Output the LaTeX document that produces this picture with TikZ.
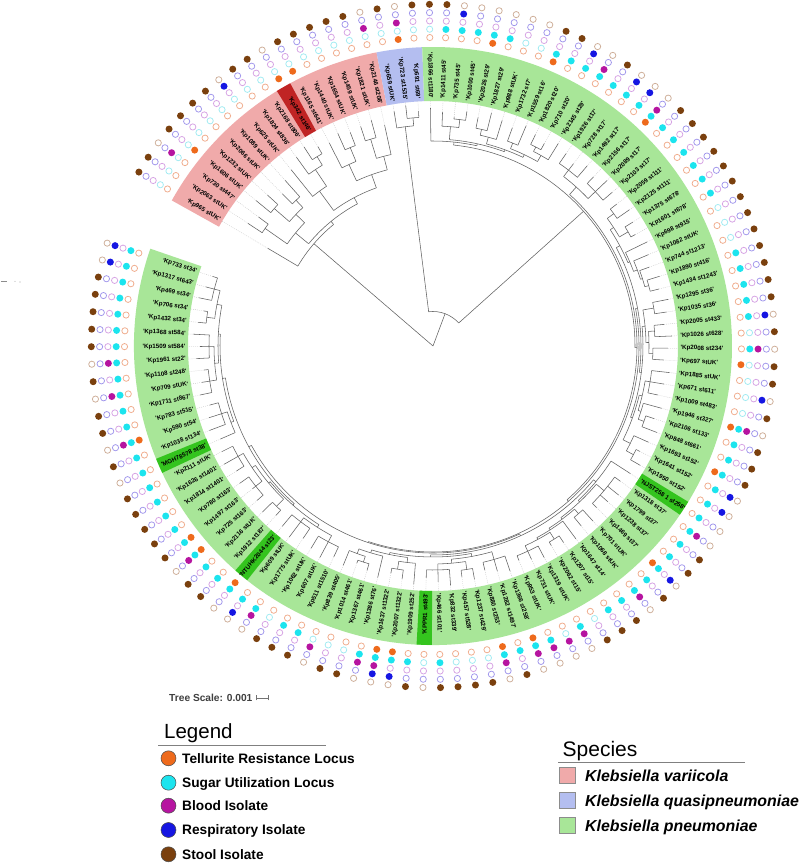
\documentclass[tikz,border=0pt]{standalone}
\usepackage{fontspec}
\setmainfont{Liberation Sans}
\definecolor{cT}{RGB}{238,106,28}
\definecolor{cS}{RGB}{28,228,238}
\definecolor{cB}{RGB}{182,20,160}
\definecolor{cR}{RGB}{22,22,226}
\definecolor{cSt}{RGB}{122,64,14}
\definecolor{lT}{RGB}{240,172,140}
\definecolor{lS}{RGB}{160,235,242}
\definecolor{lB}{RGB}{214,162,228}
\definecolor{lR}{RGB}{160,150,236}
\definecolor{lSt}{RGB}{206,174,152}
\definecolor{bPink}{RGB}{240,170,170}
\definecolor{bRed}{RGB}{192,36,36}
\definecolor{bBlue}{RGB}{180,190,240}
\definecolor{bGreen}{RGB}{168,230,152}
\definecolor{bDGreen}{RGB}{52,196,30}
\newcommand\lblfont{\fontsize{6.2}{7}\selectfont\bfseries}
\newcommand\legfont{\fontsize{13.7}{16}\selectfont\bfseries}
\newcommand\spfont{\fontsize{15.9}{18}\selectfont\bfseries\itshape}
\newcommand\leaf[3]{%
  \pgfmathsetmacro\la{149.4-2.94*#2}%
  \expandafter\xdef\csname A@#1\endcsname{\la}%
  \expandafter\xdef\csname R@#1\endcsname{#3}%
  \draw[lead] (\la:#3) -- (\la:246);%
}
\newcommand\inode[3]{%
  \gdef\nfirst{}%
  \foreach \cc in {#3}{%
    \ifx\nfirst\empty\xdef\nfirst{\cc}\fi
    \xdef\nlast{\cc}}%
  \edef\aF{\csname A@\nfirst\endcsname}%
  \edef\aL{\csname A@\nlast\endcsname}%
  \pgfmathsetmacro\nang{((\aF)+(\aL))/2}%
  \expandafter\xdef\csname A@#1\endcsname{\nang}%
  \expandafter\xdef\csname R@#1\endcsname{#2}%
  \draw[br] (\aF:#2) arc[start angle=\aF, end angle=\aL, radius=#2];%
  \foreach \cc in {#3}{%
    \edef\ca{\csname A@\cc\endcsname}%
    \edef\cra{\csname R@\cc\endcsname}%
    \draw[br] (\ca:#2) -- (\ca:\cra);}%
}
\newcommand\sect[3]{\fill[#1] (#2:245) arc[start angle=#2,end angle=#3,radius=245] -- (#3:299) arc[start angle=#3,end angle=#2,radius=299] -- cycle;}
\newcommand\dt[5]{\ifnum#3=1 \fill[#4] (#1:#2) circle[radius=3.5];\else\draw[#5,line width=0.75,fill=white] (#1:#2) circle[radius=3.1];\fi}
\begin{document}
\begin{tikzpicture}[x=1pt,y=1pt,
  br/.style={draw=black!62,line width=0.55},
  lead/.style={draw=black!25,line width=0.35,dash pattern=on 0.8pt off 1.2pt},
  lbl/.style={font=\lblfont,inner sep=0pt}]
\useasboundingbox (0,0) rectangle (800,863);
\fill[white] (0,0) rectangle (800,863);
% stray marks at the left edge
\fill[black!45] (1,582) rectangle (7,581.2);
\fill[black!35] (15,581.6) circle[radius=0.6];
\fill[black!35] (20,581) circle[radius=0.6];
\begin{scope}[shift={(433,517)}]
% colour band
\sect{bPink}{150.87}{100.89}
\sect{bRed}{121.47}{118.53}
\sect{bBlue}{100.89}{92.07}
\sect{bGreen}{92.07}{-198.99}
\foreach \q in {-32.88,-91.68,-129.9,-156.36}{\sect{bDGreen}{\q+1.47}{\q-1.47}}
% leaves
\leaf{L0}{0}{192}\leaf{L1}{1}{222}\leaf{L2}{2}{217}\leaf{L3}{3}{229}
\leaf{L4}{4}{224}\leaf{L5}{5}{214}\leaf{L6}{6}{222}\leaf{L7}{7}{226}
\leaf{L8}{8}{233}\leaf{L9}{9}{237}\leaf{L10}{10}{230}\leaf{L11}{11}{228}
\leaf{L12}{12}{233}\leaf{L13}{13}{229}\leaf{L14}{14}{231}\leaf{L15}{15}{234}
\leaf{L16}{16}{226}
\leaf{L17}{17}{238}\leaf{L18}{18}{242}\leaf{L19}{19}{235}
\foreach \i in {20,...,118}{\pgfmathtruncatemacro\tp{230+mod(\i*7,11)}\leaf{L\i}{\i}{\tp}}
% variicola
\inode{p12}{205}{L1,L2}
\inode{p34}{210}{L3,L4}
\inode{p56}{200}{L5,L6}
\inode{pA2}{190}{p34,p56}
\inode{pA}{178}{p12,pA2}
\inode{p910}{222}{L9,L10}
\inode{p8}{212}{L8,p910}
\inode{p7}{192}{L7,p8}
\inode{p1213}{215}{L12,L13}
\inode{p11}{200}{L11,p1213}
\inode{p1415}{216}{L14,L15}
\inode{p14}{196}{p1415,L16}
\inode{p1116}{182}{p11,p14}
\inode{pB}{168}{p7,p1116}
\inode{P1}{161}{pA,pB}
\inode{V}{157}{L0,P1}
% quasipneumoniae
\inode{b2}{229}{L18,L19}
\inode{bq}{221}{L17,b2}
% pneumoniae
\inode{g45a}{228}{L22,L23}
\inode{g45}{220}{L21,g45a}
\inode{g29}{222}{L24,L25}
\inode{t1}{216}{g29,L26}
\inode{t2}{218}{L27,L28}
\inode{g20}{224}{L29,L30}
\inode{t3}{219}{g20,L31}
\inode{t4}{212}{t2,t3}
\inode{t5}{209}{t1,t4}
\inode{t6}{207}{g45,t5}
\inode{T}{205}{L20,t6}
\inode{sA}{222}{L32,L33,L34}
\inode{sB}{224}{L35,L36,L37}
\inode{S17}{214}{sA,sB}
\inode{g111}{224}{L38,L39}
\inode{g678}{226}{L40,L41}
\inode{M1}{216}{g111,g678}
\inode{Mf}{224}{L45,L46}
\inode{Me}{220}{L44,Mf}
\inode{Md}{218}{L43,Me}
\inode{Mc}{214}{L42,Md}
\inode{Ma}{212}{M1,Mc}
\inode{g36}{224}{L47,L48}
\inode{Mj}{222}{L49,L50}
\inode{Mk}{220}{L51,L52}
\inode{Mi}{216}{Mj,Mk}
\inode{Mg}{213}{g36,Mi}
\inode{Mm}{220}{L53,L54,L55}
\inode{Mo}{224}{L57,L58}
\inode{Mn}{218}{L56,Mo}
\inode{Ml}{215}{Mm,Mn}
\inode{gx}{228}{L60,L61}
\inode{g152}{220}{L59,gx}
\inode{Mh}{212}{Ml,g152}
\inode{Mb}{210}{Mg,Mh}
\inode{M}{208}{Ma,Mb}
\inode{g37}{224}{L63,L64,L65,L66}
\inode{Pe}{222}{L67,L68}
\inode{g15}{228}{L70,L71}
\inode{g3u}{226}{L72,L73,L74}
\inode{Pg}{220}{g15,g3u}
\inode{Pf}{218}{L69,Pg}
\inode{Pd}{216}{Pe,Pf}
\inode{Pc}{214}{g37,Pd}
\inode{Pa}{212}{L62,Pc}
\inode{Pj}{222}{L75,L76,L77}
\inode{Pl}{226}{L78,L79}
\inode{Pm}{224}{L80,L81,L82}
\inode{Pk}{218}{Pl,Pm}
\inode{Ph}{214}{Pj,Pk}
\inode{g1322}{226}{L84,L85}
\inode{Pn}{218}{L83,g1322}
\inode{g461}{227}{L87,L88}
\inode{Pp}{221}{g461,L89}
\inode{Po}{216}{L86,Pp}
\inode{Pi}{213}{Pn,Po}
\inode{Pb}{211}{Ph,Pi}
\inode{P}{209}{Pa,Pb}
\inode{Qe}{222}{L90,L91,L92}
\inode{Qf}{220}{L93,L94,L95}
\inode{Qc}{215}{Qe,Qf}
\inode{Qg}{224}{L96,L97}
\inode{g163}{226}{L98,L99,L100}
\inode{g1401}{224}{L101,L102,L103}
\inode{Qh}{218}{g163,g1401}
\inode{Qd}{214}{Qg,Qh}
\inode{Qa}{212}{Qc,Qd}
\inode{Qk}{222}{L105,L106,L107}
\inode{Qi}{216}{L104,Qk}
\inode{Qm}{226}{L108,L109,L110}
\inode{Qn}{224}{L111,L112,L113}
\inode{Ql}{219}{Qm,Qn}
\inode{Qo}{228}{L114,L115}
\inode{Qp}{226}{L116,L117,L118}
\inode{g34}{220}{Qo,Qp}
\inode{Qj}{215}{Ql,g34}
\inode{Qb}{213}{Qi,Qj}
\inode{Q}{210}{Qa,Qb}
\inode{R2}{207}{P,Q}
\inode{R1}{206}{M,R2}
\inode{R0}{204}{S17,R1}
\inode{G}{202}{T,R0}
\inode{N1}{34.5}{bq,G}
\edef\aV{\csname A@V\endcsname}\edef\aN{\csname A@N1\endcsname}
\coordinate (root) at (0,0);
\draw[br] (root) -- (\aV:157);
\draw[br] (root) -- (\aN:34.5);
% labels
\foreach \i/\s in {0/Kp965 stUK,1/Kp2063 stUK,2/Kp730 st447,3/Kp1606 stUK,4/Kp1232 stUK,5/Kp2066 stUK,6/Kp1089 stUK,7/Kp625 stUK,8/Kp1824 st836,9/Kp2168 st906,10/Kp342 st146,11/Kp1165 st641,12/Kp1440 stUK,13/Kp1654 stUK,14/Kp1459 stUK,15/Kp1821 stUK,16/Kp2146 st208,17/Kp659 stUK,18/Kp723 st1535,19/Kp691 st69,20/Kp1866 st1180,21/Kp1411 st45,22/Kp735 st45,23/Kp1000 st45,24/Kp2026 st29,25/Kp1827 st29,26/Kp988 stUK,27/Kp1732 st7,28/Kp1559 st16,29/Kp1820 st20,30/Kp710 st20,31/Kp2145 st29,32/Kp1926 st17,33/Kp728 st17,34/Kp1492 st17,35/Kp2156 st17,36/Kp2089 st17,37/Kp2103 st17,38/Kp2059 st111,39/Kp2125 st111,40/Kp1375 st678,41/Kp1601 st678,42/Kp698 st915,43/Kp1082 stUK,44/Kp744 st1213,45/Kp1890 st416,46/Kp1434 st1243,47/Kp1295 st36,48/Kp1035 st36,49/Kp2005 st433,50/Kp1026 st628,51/Kp2008 st234,52/Kp697 stUK,53/Kp1885 stUK,54/Kp671 st611,55/Kp1009 st483,56/Kp1946 st327,57/Kp2106 st133,58/Kp848 st661,59/Kp1693 st152,60/Kp1641 st152,61/Kp1950 st152,62/NJST258 1 st258,63/Kp1318 st37,64/Kp1799 st37,65/Kp1238 st37,66/Kp1469 st37,67/Kp701 stUK,68/Kp1068 stUK,69/Kp1647 st14,70/Kp1207 st15,71/Kp2062 st15,72/Kp1319 stUK,73/Kp731 stUK,74/Kp953 stUK,75/Kp1366 st258,76/Kp1282 st1497,77/Kp880 st253,78/Kp1237 st429,79/Kp457 st528,80/Kp832 st339,81/Kp466 st101,82/KPPR1 st493,83/Kp1909 st252,84/Kp2007 st1322,85/Kp1637 st1322,86/Kp1386 st76,87/Kp1367 st461,88/Kp1014 st461,89/Kp839 st405,90/Kp511 st1510,91/Kp607 stUK,92/Kp1062 stUK,93/Kp1775 stUK,94/Kp609 stUK,95/NTUHK2044 st23,96/Kp1912 st187,97/Kp2116 stUK,98/Kp725 st163,99/Kp1497 st163,100/Kp780 st163,101/Kp1814 st1401,102/Kp1626 st1401,103/Kp2111 stUK,104/MGH78578 st38,105/Kp1038 st134,106/Kp590 st54,107/Kp783 st515,108/Kp1711 st867,109/Kp709 stUK,110/Kp1108 st248,111/Kp1961 st22,112/Kp1509 st584,113/Kp1368 st584,114/Kp1432 st34,115/Kp706 st34,116/Kp469 st34,117/Kp1317 st643,118/Kp733 st34}{%
  \pgfmathsetmacro\ang{149.4-2.94*\i}%
  \pgfmathtruncatemacro\rgt{(cos(\ang)>0)?1:0}%
  \ifnum\rgt=1
    \node[lbl,anchor=west,rotate=\ang] (lab\i) at (\ang:247.5) {\textquotesingle\s\textquotesingle};
  \else
    \pgfmathsetmacro\angf{\ang+180}%
    \node[lbl,anchor=east,rotate=\angf] (lab\i) at (\ang:247.5) {\textquotesingle\s\textquotesingle};
  \fi
}
% dots
\foreach \i/\pa/\pb/\pc/\pd/\pe in {0/0/0/0/0/1,1/0/0/0/0/1,2/0/0/1/0/0,3/1/0/0/0/1,4/0/0/0/0/1,5/0/0/0/0/1,6/0/0/0/0/1,7/0/0/0/1/0,8/0/0/0/0/1,9/0/0/0/0/1,10/1/0/0/0/0,11/1/0/0/0/1,12/0/0/0/0/1,13/0/0/0/0/1,14/0/0/0/0/1,15/0/0/0/0/1,16/0/0/1/0/0,17/0/0/0/0/1,18/1/0/1/0/0,19/0/0/0/0/1,20/0/0/0/0/1,21/0/1/0/0/1,22/0/1/0/1/0,23/0/1/0/0/0,24/1/1/0/0/0,25/0/1/0/0/0,26/0/0/0/0/0,27/0/0/0/0/0,28/1/1/0/0/1,29/0/1/0/0/1,30/0/1/0/1/0,31/0/1/1/0/0,32/0/1/0/0/1,33/0/1/0/1/0,34/0/1/0/1/0,35/1/1/1/0/0,36/0/1/0/0/1,37/0/1/0/0/1,38/0/1/0/0/1,39/0/1/0/0/1,40/0/1/0/0/1,41/0/1/0/0/1,42/0/0/0/0/1,43/0/0/0/0/1,44/0/0/0/0/1,45/0/1/0/0/1,46/0/1/0/0/1,47/0/1/0/0/1,48/0/1/0/0/1,49/0/1/0/1/0,50/0/0/0/0/1,51/0/1/1/0/0,52/1/0/0/0/1,53/0/0/0/0/1,54/0/0/0/1/0,55/0/0/0/0/1,56/1/1/1/0/0,57/0/1/0/0/1,58/0/1/0/0/1,59/1/1/0/0/1,60/0/1/0/1/0,61/0/1/0/1/0,62/0/1/0/0/0,63/0/1/1/0/0,64/0/1/0/0/1,65/0/1/0/0/1,66/1/1/0/1/0,67/0/1/0/0/1,68/0/1/1/0/0,69/0/1/0/0/1,70/0/1/0/0/1,71/0/0/0/0/1,72/0/1/1/0/0,73/0/0/1/0/0,74/0/1/1/0/0,75/1/1/1/0/0,76/0/1/0/0/1,77/1/1/1/0/0,78/0/0/0/0/1,79/0/0/0/0/1,80/0/0/0/0/1,81/0/1/0/0/1,82/0/0/0/0/0,83/0/1/0/0/1,84/1/1/0/1/0,85/1/1/1/1/0,86/0/1/1/0/0,87/0/0/0/0/1,88/0/0/0/0/1,89/0/0/1/0/0,90/0/1/0/0/1,91/0/1/0/0/1,92/0/0/0/0/1,93/0/1/1/0/0,94/0/1/0/1/0,95/1/1/0/0/0,96/0/1/0/0/1,97/0/1/0/0/1,98/1/1/1/0/0,99/1/1/0/0/1,100/0/1/0/0/1,101/0/1/0/0/1,102/0/1/0/0/1,103/0/1/0/0/1,104/0/1/0/0/0,105/0/1/0/0/1,106/1/1/1/0/0,107/0/1/0/0/1,108/0/1/0/0/1,109/0/1/1/0/0,110/0/1/0/0/1,111/0/1/1/0/0,112/0/1/0/0/1,113/0/1/0/0/1,114/0/1/0/0/1,115/0/1/0/0/1,116/0/1/0/0/1,117/0/1/0/1/0,118/0/1/0/1/0}{%
  \pgfmathsetmacro\ang{149.4-2.94*\i}%
  \dt{\ang}{308.5}{\pa}{cT}{lT}%
  \dt{\ang}{316.8}{\pb}{cS}{lS}%
  \dt{\ang}{325.1}{\pc}{cB}{lB}%
  \dt{\ang}{333.4}{\pd}{cR}{lR}%
  \dt{\ang}{341.7}{\pe}{cSt}{lSt}%
}
\end{scope}
% tree scale
\node[anchor=west,font=\fontsize{10.2}{12}\selectfont\bfseries,text=black!75,inner sep=0pt] (ts) at (169,165) {Tree Scale: 0.001};
\draw[black!55,line width=0.6] (256,165) -- (268,165) (256,162.5) -- (256,167.5) (268,162.5) -- (268,167.5);
% legend
\node[anchor=base west,font=\fontsize{20.5}{24}\selectfont,inner sep=0pt] (lg) at (164,124) {Legend};
\draw[black!50,line width=0.8] (158,118) -- (326,118);
\foreach \y/\col/\txt [count=\k] in {104.7/cT/Tellurite Resistance Locus,80.3/cS/Sugar Utilization Locus,57.3/cB/Blood Isolate,33/cR/Respiratory Isolate,8.7/cSt/Stool Isolate}{%
  \fill[\col,draw=black!70,line width=0.5] (168.5,\y) circle[radius=7.5];
  \node[anchor=base west,font=\legfont,inner sep=0pt] (leg\k) at (182,\y-4.9) {\txt};
}
% species
\node[anchor=base west,font=\fontsize{21}{24}\selectfont,inner sep=0pt] (sp) at (562.5,106.3) {Species};
\draw[black!50,line width=0.8] (558,101) -- (745,101);
\foreach \y/\col/\txt [count=\k] in {87.5/bPink/Klebsiella variicola,62.5/bBlue/Klebsiella quasipneumoniae,37.5/bGreen/Klebsiella pneumoniae}{%
  \filldraw[fill=\col,draw=black!45,line width=0.6] (559.5,\y-8) rectangle (575.5,\y+8);
  \node[anchor=base west,font=\spfont,inner sep=0pt] (spi\k) at (585,\y-5.7) {\txt};
}
\end{tikzpicture}
\end{document}
